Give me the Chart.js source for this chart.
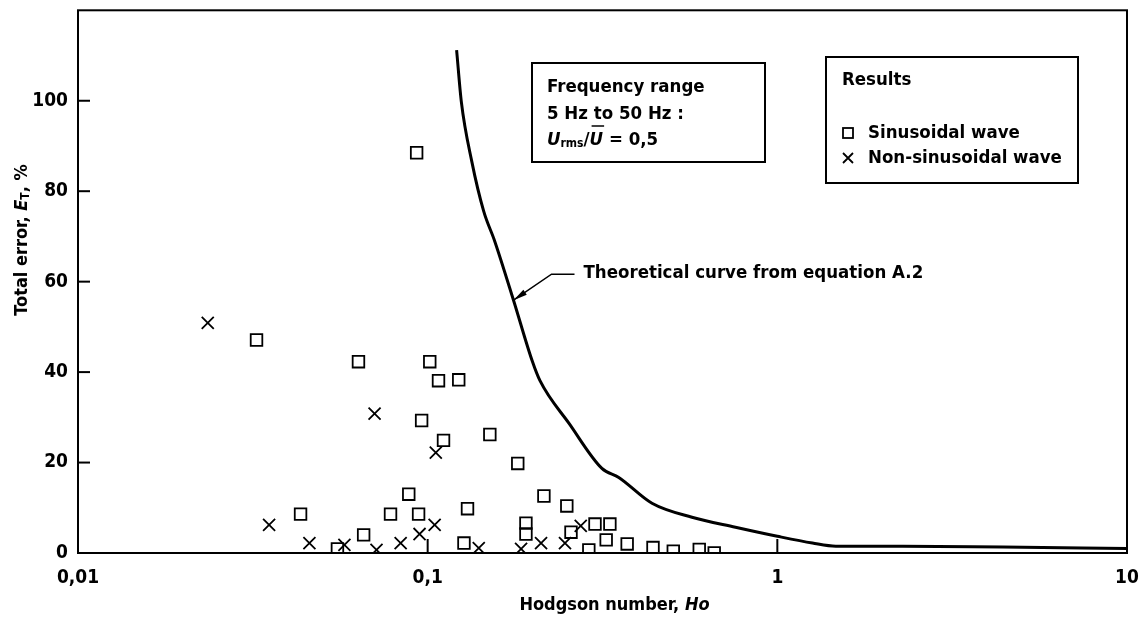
<!DOCTYPE html>
<html>
<head>
<meta charset="utf-8">
<script src="https://cdn.jsdelivr.net/npm/chart.js@4/dist/chart.umd.min.js"></script>
<style>
  body { margin: 0; background: #fff; }
  #wrap { width: 1142px; height: 617px; }
</style>
</head>
<body>
<div id="wrap"><canvas id="chart" width="1142" height="617"></canvas></div>
<script>
// values

// sinusoidal wave (open squares)
const sinX = [0.0324, 0.0433, 0.0552, 0.0634, 0.0656, 0.0783, 0.0883, 0.093, 0.0942, 0.0961,
              0.1014, 0.1074, 0.111, 0.1227, 0.127, 0.130, 0.1506, 0.181, 0.191, 0.191,
              0.215, 0.250, 0.257, 0.289, 0.301, 0.324, 0.332, 0.372, 0.441, 0.504, 0.598, 0.66];
const sinY = [47.1, 8.6, 0.9, 42.3, 4.0, 8.6, 13.0, 88.5, 8.6, 29.3,
              42.3, 38.1, 24.9, 38.3, 2.2, 9.8, 26.2, 19.8, 6.6, 4.2,
              12.6, 10.4, 4.6, 0.7, 6.4, 2.9, 6.4, 2.0, 1.2, 0.4, 0.8, 0.0];

// non-sinusoidal wave (crosses)
const nonX = [0.0235, 0.0352, 0.0459, 0.0578, 0.0705, 0.0714, 0.0837, 0.0948, 0.1047, 0.1055,
              0.140, 0.185, 0.211, 0.247, 0.274];
const nonY = [50.9, 6.2, 2.2, 1.8, 30.8, 0.7, 2.2, 4.2, 6.2, 22.2,
              1.1, 0.9, 2.2, 2.2, 6.0];

// theoretical curve from equation A.2
const curveX = [0.121, 0.1248, 0.1337, 0.1446, 0.1556, 0.176, 0.199, 0.2095, 0.254, 0.315,
                0.352, 0.438, 0.570, 0.759, 1.0, 1.26, 1.47, 2.28, 4.41, 10];
const curveY = [111.2, 99.8, 86.6, 75.6, 68.9, 55.9, 42.5, 38.1, 28.6, 18.7,
                16.7, 11.0, 7.9, 5.7, 3.7, 2.2, 1.5, 1.5, 1.3, 1.0];
const arrowIndex = 5; // point on the curve the leader arrow touches

const xTicks = [0.01, 0.1, 1, 10];
const xTickLabels = ["0,01", "0,1", "1", "10"];
const yTicks = [0, 20, 40, 60, 80, 100];

const FONT = '"Liberation Sans Narrow", "DejaVu Sans Condensed", "Roboto Condensed", sans-serif';

function toPoints(xs, ys) {
    return xs.map((x, i) => ({ x: x, y: ys[i] }));
}

// draw a run of text pieces with mixed style, returns the end x
function drawRuns(ctx, runs, x, y) {
    for (const r of runs) {
        ctx.font = r.font;
        const dy = r.dy || 0;
        ctx.fillText(r.text, x, y + dy);
        const w = ctx.measureText(r.text).width;
        if (r.overline) {
            ctx.lineWidth = 1.5;
            ctx.beginPath();
            ctx.moveTo(x + 2, y - 14);
            ctx.lineTo(x + w + 1, y - 14);
            ctx.stroke();
        }
        x += w;
    }
    return x;
}

const decorPlugin = {
    id: "decor",
    afterDatasetsDraw(chart) {
        const ctx = chart.ctx;
        const a = chart.chartArea;
        const xs = chart.scales.x;
        const ys = chart.scales.y;

        ctx.save();
        ctx.strokeStyle = "#000";
        ctx.fillStyle = "#000";

        // frame
        ctx.lineWidth = 2;
        ctx.strokeRect(a.left, a.top, a.right - a.left, a.bottom - a.top);

        // inward ticks
        yTicks.forEach(v => {
            if (v === 0) return;
            const py = ys.getPixelForValue(v);
            ctx.beginPath();
            ctx.moveTo(a.left, py);
            ctx.lineTo(a.left + 12, py);
            ctx.stroke();
        });
        [0.1, 1].forEach(v => {
            const px = xs.getPixelForValue(v);
            ctx.beginPath();
            ctx.moveTo(px, a.bottom);
            ctx.lineTo(px, a.bottom - 14);
            ctx.stroke();
        });

        // axis titles
        ctx.textBaseline = "middle";
        ctx.textAlign = "left";
        const bold = "bold 18px " + FONT;
        const boldIt = "italic bold 18px " + FONT;
        const sub = "bold 12px " + FONT;

        // x title
        const xRuns = [
            { text: "Hodgson number, ", font: bold },
            { text: "Ho", font: boldIt }
        ];
        let w = 0;
        xRuns.forEach(r => { ctx.font = r.font; w += ctx.measureText(r.text).width; });
        drawRuns(ctx, xRuns, (a.left + a.right) / 2 + 12 - w / 2, 605);

        // y title, rotated
        const yRuns = [
            { text: "Total error, ", font: bold },
            { text: "E", font: boldIt },
            { text: "T", font: sub, dy: 4 },
            { text: ", %", font: bold }
        ];
        w = 0;
        yRuns.forEach(r => { ctx.font = r.font; w += ctx.measureText(r.text).width; });
        ctx.save();
        ctx.translate(22, 240);
        ctx.rotate(-Math.PI / 2);
        drawRuns(ctx, yRuns, -w / 2, 0);
        ctx.restore();

        // frequency range box
        const txt = "bold 18.5px " + FONT;
        ctx.lineWidth = 2;
        ctx.strokeRect(532, 63, 233, 99);
        ctx.font = txt;
        ctx.fillText("Frequency range", 547, 87);
        ctx.fillText("5 Hz to 50 Hz :", 547, 114);
        drawRuns(ctx, [
            { text: "U", font: "italic " + txt },
            { text: "rms", font: "bold 12px " + FONT, dy: 4 },
            { text: "/", font: txt },
            { text: "U", font: "italic " + txt, overline: true },
            { text: " = 0,5", font: txt }
        ], 547, 140);

        // results legend box
        ctx.lineWidth = 2;
        ctx.strokeRect(826, 57, 252, 126);
        ctx.font = txt;
        ctx.fillText("Results", 842, 80);
        ctx.fillText("Sinusoidal wave", 868, 133);
        ctx.fillText("Non-sinusoidal wave", 868, 158);
        ctx.lineWidth = 1.8;
        ctx.strokeRect(843, 128, 10, 10);
        ctx.beginPath();
        ctx.moveTo(843, 153); ctx.lineTo(853, 163);
        ctx.moveTo(853, 153); ctx.lineTo(843, 163);
        ctx.stroke();

        // leader arrow to the theoretical curve
        const tipX = xs.getPixelForValue(curveX[arrowIndex]);
        const tipY = ys.getPixelForValue(curveY[arrowIndex]);
        const kneeX = tipX + 38, kneeY = tipY - 26;
        ctx.lineWidth = 1.5;
        ctx.beginPath();
        ctx.moveTo(tipX, tipY);
        ctx.lineTo(kneeX, kneeY);
        ctx.lineTo(kneeX + 23, kneeY);
        ctx.stroke();
        const ang = Math.atan2(kneeY - tipY, kneeX - tipX);
        ctx.beginPath();
        ctx.moveTo(tipX, tipY);
        ctx.lineTo(tipX + 14 * Math.cos(ang) - 3 * Math.sin(ang), tipY + 14 * Math.sin(ang) + 3 * Math.cos(ang));
        ctx.lineTo(tipX + 14 * Math.cos(ang) + 3 * Math.sin(ang), tipY + 14 * Math.sin(ang) - 3 * Math.cos(ang));
        ctx.closePath();
        ctx.fill();
        ctx.font = "bold 18.5px " + FONT;
        ctx.fillText("Theoretical curve from equation A.2", kneeX + 32, kneeY - 1);

        ctx.restore();
    }
};

new Chart(document.getElementById("chart"), {
    type: "scatter",
    data: {
        datasets: [
            {
                label: "Theoretical curve from equation A.2",
                data: toPoints(curveX, curveY),
                showLine: true,
                borderColor: "#000",
                borderWidth: 3,
                pointRadius: 0,
                cubicInterpolationMode: "monotone"
            },
            {
                label: "Sinusoidal wave",
                data: toPoints(sinX, sinY),
                pointStyle: "rect",
                pointRadius: 8.2,
                borderColor: "#000",
                backgroundColor: "rgba(0,0,0,0)",
                borderWidth: 1.8
            },
            {
                label: "Non-sinusoidal wave",
                data: toPoints(nonX, nonY),
                pointStyle: "crossRot",
                pointRadius: 8.5,
                borderColor: "#000",
                borderWidth: 1.8
            }
        ]
    },
    options: {
        responsive: false,
        animation: false,
        layout: { padding: { top: 8, right: 15, left: 0, bottom: 0 } },
        plugins: {
            legend: { display: false },
            tooltip: { enabled: false }
        },
        scales: {
            x: {
                type: "logarithmic",
                min: 0.01,
                max: 10,
                grid: { display: false, drawTicks: false },
                border: { display: false },
                afterBuildTicks: scale => {
                    scale.ticks = xTicks.map(v => ({ value: v }));
                },
                afterFit: scale => {
                    scale.height = 64;
                    scale.paddingLeft = 0;
                    scale.paddingRight = 0;
                },
                ticks: {
                    padding: 14,
                    color: "#000",
                    maxRotation: 0,
                    autoSkip: false,
                    font: { family: FONT, size: 19, weight: "bold" },
                    callback: function(value) {
                        const i = xTicks.indexOf(value);
                        return i >= 0 ? xTickLabels[i] : "";
                    }
                }
            },
            y: {
                min: 0,
                max: 120,
                grid: { display: false, drawTicks: false },
                border: { display: false },
                afterBuildTicks: scale => {
                    scale.ticks = yTicks.map(v => ({ value: v }));
                },
                afterFit: scale => {
                    scale.width = 78;
                    scale.paddingTop = 0;
                    scale.paddingBottom = 0;
                },
                ticks: {
                    padding: 10,
                    color: "#000",
                    font: { family: FONT, size: 19, weight: "bold" }
                }
            }
        }
    },
    plugins: [decorPlugin]
});
</script>
</body>
</html>
